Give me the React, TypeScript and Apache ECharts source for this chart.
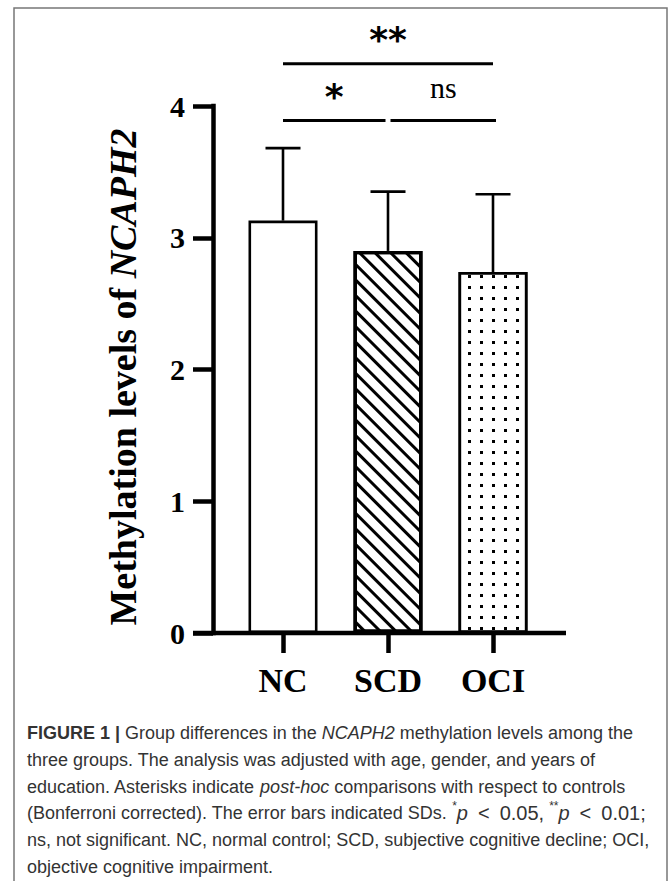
import React, { useEffect, useRef } from "react";
import * as echarts from "echarts";

// ---------- data ----------
const categories = ["NC", "SCD", "OCI"];
const meanValues = [3.13, 2.9, 2.74];
const sdValues = [0.55, 0.45, 0.59];
const yMin = 0;
const yMax = 4;
const yStep = 1;
const bracketFrom = [0, 1, 0];
const bracketTo = [1, 2, 2];
const bracketLevel = [3.89, 3.89, 4.32];
const bracketLabels = ["*", "ns", "**"];
const yAxisTitle = "Methylation levels of {i|NCAPH2}";
const captionLines = [
  "{b|FIGURE 1 |} Group differences in the {i|NCAPH2} methylation levels among the",
  "three groups. The analysis was adjusted with age, gender, and years of",
  "education. Asterisks indicate {i|post-hoc} comparisons with respect to controls",
  "(Bonferroni corrected). The error bars indicated SDs. {s|*}{mi|p}{m|\u2002<\u20020.05,} {s|**}{mi|p}{m|\u2002<\u20020.01;}",
  "ns, not significant. NC, normal control; SCD, subjective cognitive decline; OCI,",
  "objective cognitive impairment.",
];

// ---------- layout ----------
const W = 669;
const H = 881;
const GRID_LEFT = 230.5;
const GRID_RIGHT = 123.5;
const GRID_TOP = 106;
const GRID_BOTTOM = 248;
const Y_OFFSET = 17.5;
const TICK_LEN = 20;
const X_AXIS_RIGHT = 566;
const SERIF = '"Liberation Serif", "Times New Roman", serif';
const SANS = '"Liberation Sans", Arial, sans-serif';

const barStyles = [
  { color: "#fff", borderColor: "#000", borderWidth: 2.6 },
  {
    color: "#fff",
    borderColor: "#000",
    borderWidth: 3.4,
    decal: {
      symbol: "rect",
      symbolSize: 1,
      dashArrayX: [1, 0],
      dashArrayY: [2.4, 7.2],
      rotation: Math.PI / 4,
      color: "#000",
      backgroundColor: "#fff",
    },
  },
  {
    color: "#fff",
    borderColor: "#000",
    borderWidth: 2.6,
    decal: {
      symbol: "rect",
      symbolSize: 1,
      dashArrayX: [2.4, 9],
      dashArrayY: [2.4, 7.4],
      rotation: 0,
      color: "#000",
      backgroundColor: "#fff",
    },
  },
];

export default function App() {
  const ref = useRef<HTMLDivElement>(null);

  useEffect(() => {
    if (!ref.current) return;
    const chart = echarts.init(ref.current, null, { renderer: "svg", width: W, height: H });
    const y0 = H - GRID_BOTTOM;
    const capStyle = { fontFamily: SANS, fontSize: 18, fill: "#333", lineHeight: 26.7 };

    const option: any = {
      animation: false,
      backgroundColor: "#fff",
      grid: { left: GRID_LEFT, right: GRID_RIGHT, top: GRID_TOP, bottom: GRID_BOTTOM },
      xAxis: {
        type: "category",
        data: categories,
        axisLine: { show: false },
        axisTick: {
          show: true,
          alignWithLabel: true,
          length: TICK_LEN,
          lineStyle: { color: "#000", width: 4.5 },
        },
        axisLabel: {
          color: "#000",
          fontFamily: SERIF,
          fontWeight: "bold",
          fontSize: 34,
          margin: 30,
        },
        splitLine: { show: false },
      },
      yAxis: {
        type: "value",
        min: yMin,
        max: yMax,
        interval: yStep,
        offset: Y_OFFSET,
        axisLine: { show: true, lineStyle: { color: "#000", width: 4.5, cap: "square" } },
        axisTick: { show: true, length: TICK_LEN, lineStyle: { color: "#000", width: 4.5 } },
        axisLabel: {
          color: "#000",
          fontFamily: SERIF,
          fontWeight: "bold",
          fontSize: 30,
          margin: 28,
        },
        splitLine: { show: false },
      },
      series: [
        {
          type: "bar",
          barWidth: 69,
          data: meanValues.map((v, i) => ({ value: v, itemStyle: barStyles[i] })),
          z: 2,
        },
        {
          type: "custom",
          z: 3,
          dimensions: ["x", "mean", "sd"],
          encode: { x: 0, y: 1 },
          data: categories.map((c, i) => [i, meanValues[i], sdValues[i]]),
          renderItem: (params: any, api: any) => {
            const x = api.value(0);
            const m = api.value(1);
            const s = api.value(2);
            const p0 = api.coord([x, m]);
            const p1 = api.coord([x, m + s]);
            const half = 17.5;
            const style = { stroke: "#000", lineWidth: 2.6, fill: "none" };
            return {
              type: "group",
              children: [
                { type: "line", shape: { x1: p0[0], y1: p0[1], x2: p1[0], y2: p1[1] }, style },
                { type: "line", shape: { x1: p1[0] - half, y1: p1[1], x2: p1[0] + half, y2: p1[1] }, style },
              ],
            };
          },
        },
        {
          type: "custom",
          z: 3,
          clip: false,
          dimensions: ["from", "to", "level"],
          encode: { x: [0, 1], y: 2 },
          data: bracketFrom.map((f, i) => [f, bracketTo[i], bracketLevel[i]]),
          renderItem: (params: any, api: any) => {
            const f = api.value(0);
            const t = api.value(1);
            const lv = api.value(2);
            const a = api.coord([f, lv]);
            const b = api.coord([t, lv]);
            const inset = t - f === 1 ? 2.5 : 0;
            const x1 = a[0] + (f > 0 ? inset : 0);
            const x2 = b[0] - (t < categories.length - 1 ? inset : 0) + (t === categories.length - 1 && inset ? 3 : 0);
            const label = bracketLabels[params.dataIndex];
            const isStar = label.indexOf("*") >= 0;
            return {
              type: "group",
              children: [
                {
                  type: "line",
                  shape: { x1, y1: a[1], x2, y2: a[1] },
                  style: { stroke: "#000", lineWidth: 3 },
                },
                {
                  type: "text",
                  x: (x1 + x2) / 2,
                  y: a[1] - (isStar ? 24 : 33),
                  style: {
                    text: label,
                    fill: "#000",
                    font: isStar ? 'bold 36px "DejaVu Sans"' : `30px ${SERIF}`,
                    align: "center",
                    verticalAlign: "middle",
                    textAlign: "center",
                    textVerticalAlign: "middle",
                  },
                },
              ],
            };
          },
        },
      ],
      graphic: [
        {
          type: "rect",
          shape: { x: 14, y: 8, width: 653, height: 900 },
          style: { fill: "none", stroke: "#777", lineWidth: 1.5 },
          silent: true,
        },
        {
          type: "line",
          z: 10,
          shape: { x1: GRID_LEFT - Y_OFFSET - TICK_LEN, y1: y0, x2: X_AXIS_RIGHT, y2: y0 },
          style: { stroke: "#000", lineWidth: 4.5 },
        },
        {
          type: "text",
          x: 123,
          y: 377,
          rotation: Math.PI / 2,
          style: {
            text: yAxisTitle,
            fill: "#000",
            fontFamily: SERIF,
            fontWeight: "bold",
            fontSize: 38,
            align: "center",
            verticalAlign: "middle",
            rich: {
              i: {
                fontFamily: SERIF,
                fontWeight: "bold",
                fontStyle: "italic",
                fontSize: 38,
                fill: "#000",
              },
            },
          },
        },
        {
          type: "text",
          left: 27,
          top: 720,
          style: {
            text: captionLines.join("\n"),
            ...capStyle,
            rich: {
              b: { ...capStyle, fontWeight: "bold" },
              i: { ...capStyle, fontStyle: "italic" },
              m: { ...capStyle, fontSize: 20 },
              mi: { ...capStyle, fontSize: 20, fontStyle: "italic" },
              s: { ...capStyle, fontSize: 12, verticalAlign: "top" },
            },
          },
        },
      ],
    };

    chart.setOption(option);
    return () => chart.dispose();
  }, []);

  return (
    <div
      ref={ref}
      style={{ position: "fixed", left: 0, top: 0, width: W, height: H, background: "#fff" }}
    />
  );
}
